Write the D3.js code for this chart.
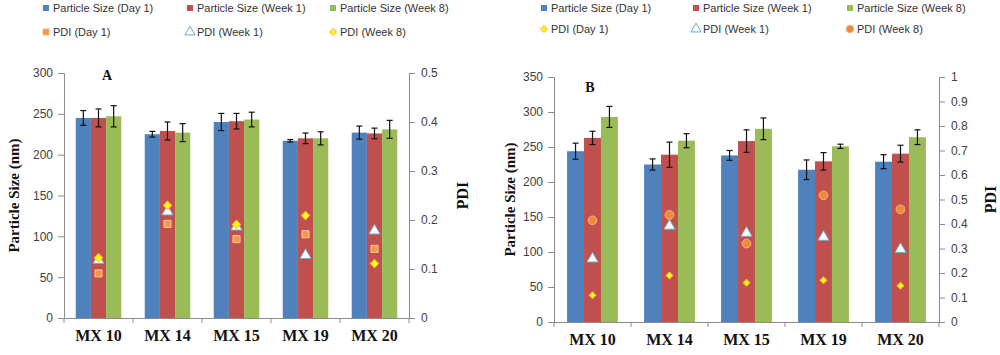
<!DOCTYPE html>
<html><head><meta charset="utf-8">
<script src="https://cdn.jsdelivr.net/npm/d3@7"></script>
<style>
body{margin:0;background:#fff}
svg text{font-family:"Liberation Sans",Arial,sans-serif}
</style></head>
<body><svg id="c" width="1000" height="355"></svg>
<script>
const categories = ["MX 10","MX 14","MX 15","MX 19","MX 20"];
const sizeSeries = ["Particle Size (Day 1)","Particle Size (Week 1)","Particle Size (Week 8)"];
// Panel A
const sizeA_day1  = [245, 225, 240, 217, 227];
const sizeA_week1 = [245, 229, 241, 220, 226];
const sizeA_week8 = [247, 227, 243, 220, 231];
const errA_day1   = [9, 3.5, 10.5, 1.5, 8];
const errA_week1  = [11, 11, 9.5, 6.5, 6.5];
const errA_week8  = [13, 11, 9, 8, 11];
const pdiA_day1   = [0.091, 0.192, 0.161, 0.171, 0.141];
const pdiA_week1  = [0.118, 0.217, 0.186, 0.128, 0.178];
const pdiA_week8  = [0.123, 0.230, 0.191, 0.209, 0.111];
const leftTicksA  = [0, 50, 100, 150, 200, 250, 300];
const rightTicksA = [0, 0.1, 0.2, 0.3, 0.4, 0.5];
// Panel B
const sizeB_day1  = [244, 225, 238, 217.5, 229];
const sizeB_week1 = [263, 239, 258.5, 229.5, 240.5];
const sizeB_week8 = [293, 259, 276, 251, 264];
const errB_day1   = [11.5, 8, 7, 14, 10];
const errB_week1  = [9.5, 18, 16, 12.5, 12];
const errB_week8  = [15, 10, 15.5, 3, 10.5];
const pdiB_day1   = [0.109, 0.190, 0.160, 0.170, 0.148];
const pdiB_week1  = [0.258, 0.392, 0.363, 0.347, 0.297];
const pdiB_week8  = [0.415, 0.437, 0.320, 0.517, 0.460];
const leftTicksB  = [0, 50, 100, 150, 200, 250, 300, 350];
const rightTicksB = [0, 0.1, 0.2, 0.3, 0.4, 0.5, 0.6, 0.7, 0.8, 0.9, 1];

const barColors = ["#4F81BD","#C0504D","#9BBB59"];
const svg = d3.select("#c");

const sym = {
  square:   {type:d3.symbolSquare,  rot:0,  fill:"#F79646", stroke:"#FBC9A3"},
  triangle: {type:d3.symbolTriangle,rot:0,  fill:"#FFFFFF", stroke:"#6FA8C8"},
  diamond:  {type:d3.symbolSquare,  rot:45, fill:"#FFFF00", stroke:"#F7C040"},
  circle:   {type:d3.symbolCircle,  rot:0,  fill:"#ED8A3C", stroke:"#F4B27A"}
};

function panel(cfg){
  const g = svg.append("g");
  const x = d3.scaleBand().domain(categories).range([cfg.x0, cfg.x1]).paddingInner(cfg.pad).paddingOuter(cfg.pad/2);
  const xs = d3.scaleBand().domain([0,1,2]).range([0, x.bandwidth()]);
  const y = d3.scaleLinear().domain([0, cfg.leftMax]).range([cfg.y0, cfg.y1]);
  const y2 = d3.scaleLinear().domain([0, cfg.rightMax]).range([cfg.y0, cfg.y1]);

  cfg.sizes.forEach((vals, si) => {
    g.selectAll(null).data(vals).enter().append("rect")
      .attr("x", (d,i)=> x(categories[i]) + xs(si))
      .attr("y", d => y(d))
      .attr("width", xs.bandwidth())
      .attr("height", d => y(0) - y(d))
      .attr("fill", barColors[si]);
  });
  cfg.sizes.forEach((vals, si) => {
    const errs = cfg.errs[si];
    vals.forEach((v,i) => {
      const cx = x(categories[i]) + xs(si) + xs.bandwidth()/2;
      const t = y(v+errs[i]), b = y(v-errs[i]);
      g.append("line").attr("x1",cx).attr("x2",cx).attr("y1",t).attr("y2",b).attr("stroke","#111").attr("stroke-width",1.2);
      [t,b].forEach(yy => g.append("line").attr("x1",cx-3).attr("x2",cx+3).attr("y1",yy).attr("y2",yy).attr("stroke","#111").attr("stroke-width",1.2));
    });
  });

  const axL = g.append("g").attr("transform",`translate(${cfg.x0},0)`)
    .call(d3.axisLeft(y).tickValues(cfg.leftTicks).tickSize(6).tickPadding(5));
  const axR = g.append("g").attr("transform",`translate(${cfg.x1},0)`)
    .call(d3.axisRight(y2).tickValues(cfg.rightTicks).tickSize(6).tickPadding(6).tickFormat(d => d===0?"0":(d===1?"1":d3.format(".1f")(d))));
  const axB = g.append("g").attr("transform",`translate(0,${cfg.y0})`)
    .call(d3.axisBottom(x).tickSize(0).tickPadding(12));
  [axL, axR].forEach(a => {
    a.select(".domain").attr("stroke","#8c8c8c");
    a.selectAll(".tick line").attr("stroke","#8c8c8c");
    a.selectAll(".tick text").attr("fill","#404040").style("font-size","12px");
  });
  axB.select(".domain").attr("stroke","#8c8c8c");
  axB.selectAll(".tick text").attr("fill","#111").style("font-family","'Liberation Serif','Times New Roman',serif")
    .style("font-weight","bold").style("font-size","16px");
  const bounds = categories.map(c => x(c) - x.step()*x.paddingInner()/2).concat([cfg.x1]);
  bounds[0] = cfg.x0;
  g.selectAll(null).data(bounds).enter().append("line")
    .attr("x1",d=>d).attr("x2",d=>d).attr("y1",cfg.y0).attr("y2",cfg.y0+5).attr("stroke","#8c8c8c");

  cfg.pdis.forEach((p) => {
    const s = sym[p.shape];
    g.selectAll(null).data(p.vals).enter().append("path")
      .attr("d", d3.symbol().type(s.type).size(p.size))
      .attr("transform",(d,i)=>`translate(${x(categories[i]) + x.bandwidth()/2},${y2(d)}) rotate(${s.rot})`)
      .attr("fill", s.fill).attr("stroke", s.stroke).attr("stroke-width",1);
  });

  g.append("text").attr("transform",`translate(${cfg.ytX},${(cfg.y0+cfg.y1)/2}) rotate(-90)`)
    .attr("text-anchor","middle").attr("dy","0.35em")
    .style("font-family","'Liberation Serif','Times New Roman',serif").style("font-weight","bold").style("font-size","15px")
    .attr("fill","#111").text("Particle Size (nm)");
  g.append("text").attr("transform",`translate(${cfg.y2tX},${(cfg.y0+cfg.y1)/2}) rotate(-90)`)
    .attr("text-anchor","middle").attr("dy","0.35em")
    .style("font-family","'Liberation Serif','Times New Roman',serif").style("font-weight","bold").style("font-size","16px")
    .attr("fill","#111").text("PDI");
  g.append("text").attr("x",cfg.labX).attr("y",cfg.labY).attr("text-anchor","middle")
    .style("font-family","'Liberation Serif','Times New Roman',serif").style("font-weight","bold").style("font-size","14px")
    .attr("fill","#111").text(cfg.label);

  const L = svg.append("g");
  sizeSeries.forEach((name, i) => {
    const lx = cfg.legX[i];
    L.append("rect").attr("x",lx-3).attr("y",cfg.legY1-3).attr("width",6).attr("height",6).attr("fill",barColors[i]);
    L.append("text").attr("x",lx+7).attr("y",cfg.legY1).attr("dy","0.35em").style("font-size","11px").attr("fill","#333").text(name);
  });
  cfg.pdis.forEach((p, i) => {
    const lx = cfg.legX[i];
    const s = sym[p.shape];
    L.append("path").attr("d", d3.symbol().type(s.type).size(p.legSize))
      .attr("transform",`translate(${lx},${cfg.legY2}) rotate(${s.rot})`)
      .attr("fill", p.shape==="triangle" ? "#fff" : s.fill).attr("stroke", s.stroke);
    L.append("text").attr("x",lx+7).attr("y",cfg.legY2).attr("dy","0.35em").style("font-size","11px").attr("fill","#333").text(p.name);
  });
}

panel({
  x0:64, x1:409, y0:318, y1:73, pad:0.34, leftMax:300, rightMax:0.5,
  leftTicks:leftTicksA, rightTicks:rightTicksA,
  sizes:[sizeA_day1,sizeA_week1,sizeA_week8], errs:[errA_day1,errA_week1,errA_week8],
  pdis:[
    {name:"PDI (Day 1)", vals:pdiA_day1, shape:"square", size:50, legSize:40},
    {name:"PDI (Week 1)", vals:pdiA_week1, shape:"triangle", size:55, legSize:45},
    {name:"PDI (Week 8)", vals:pdiA_week8, shape:"diamond", size:34, legSize:22}
  ],
  ytX:14, y2tX:462, labX:107, labY:80, label:"A",
  legX:[46,190,333], legY1:8, legY2:32
});
panel({
  x0:554, x1:939, y0:322, y1:77, pad:0.34, leftMax:350, rightMax:1,
  leftTicks:leftTicksB, rightTicks:rightTicksB,
  sizes:[sizeB_day1,sizeB_week1,sizeB_week8], errs:[errB_day1,errB_week1,errB_week8],
  pdis:[
    {name:"PDI (Day 1)", vals:pdiB_day1, shape:"diamond", size:22, legSize:22},
    {name:"PDI (Week 1)", vals:pdiB_week1, shape:"triangle", size:55, legSize:45},
    {name:"PDI (Week 8)", vals:pdiB_week8, shape:"circle", size:60, legSize:45}
  ],
  ytX:510, y2tX:990, labX:590, labY:92, label:"B",
  legX:[544,696,850], legY1:8, legY2:29
});
</script></body></html>
